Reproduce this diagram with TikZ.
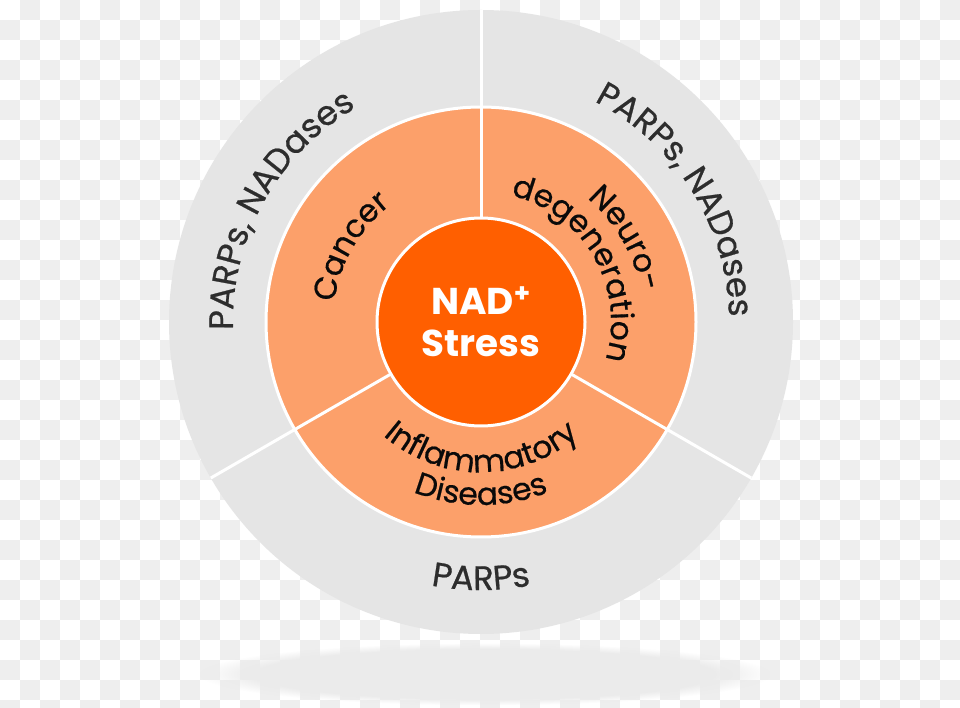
\documentclass[tikz,border=0pt]{standalone}
\usepackage{fontspec}
\setmainfont{Poppins}
\newfontfamily\popmed[FakeBold=0.6]{Poppins}
\usetikzlibrary{decorations.text,fadings}
\definecolor{checker}{RGB}{238,238,238}
\definecolor{ringgrey}{RGB}{229,229,229}
\definecolor{ringorange}{RGB}{252,160,106}
\definecolor{coreorange}{RGB}{255,95,0}
\definecolor{txtgrey}{RGB}{45,45,45}
\definecolor{txtblack}{RGB}{10,10,10}
\newcommand\outerfont{\popmed\fontsize{25.5}{29}\selectfont\color{txtgrey}}
\newcommand\midfont{\popmed\fontsize{23.5}{27}\selectfont\color{txtblack}}
% clockwise arc label (tops outward): angle, radius, format, text
\newcommand\cwlabel[4]{%
  \path[decorate,decoration={text along path,text align=center,text={|#3|#4}}]
    (C) ++({#1+80}:#2) arc[start angle={#1+80},end angle={#1-80},radius=#2];}
% counterclockwise arc label (tops toward centre)
\newcommand\ccwlabel[4]{%
  \path[decorate,decoration={text along path,text align=center,text={|#3|#4}}]
    (C) ++({#1-80}:#2) arc[start angle={#1-80},end angle={#1+80},radius=#2];}
\begin{document}
\begin{tikzpicture}[x=0.75pt,y=0.75pt,
  divider/.style={white,line width=2.25pt},
  corebox/.style={circle,fill=coreorange,draw=white,line width=2.25pt,
    minimum size=156pt,inner sep=0pt,text=white,align=center,
    font=\bfseries\fontsize{28}{31.5}\selectfont}]
\useasboundingbox (0,0) rectangle (960,707);
% transparent-background checkerboard
\fill[white] (0,0) rectangle (960,707);
\foreach \j in {0,...,35}{
  \pgfmathtruncatemacro\off{mod(\j+1,2)*20}
  \foreach \i in {0,...,23}{
    \fill[checker] ({40*\i+\off},{707-20*\j}) rectangle ++(20,-20);
  }
}
% soft shadow
\fill[black!8,path fading=circle with fuzzy edge 20 percent] (200,2) rectangle (770,64);
\coordinate (C) at (481,385);
% rings
\fill[ringgrey] (C) circle[radius=312];
\filldraw[fill=ringorange,draw=white,line width=2.25pt] (C) circle[radius=215];
\foreach \a in {90,210,330}{\draw[divider] (C) -- ++(\a:312);}
\node[corebox] (core) at (C) {NAD\textsuperscript{+}\\Stress};
% outer ring labels
\cwlabel{151}{248}{\outerfont}{PARPs{,} NADases}
\cwlabel{32}{248}{\outerfont}{PARPs{,} NADases}
\ccwlabel{270}{268}{\outerfont}{PARPs}
% middle ring labels
\cwlabel{150}{148}{\midfont}{Cancer}
\cwlabel{30}{163}{\midfont}{Neuro-}
\cwlabel{30}{130}{\midfont}{degeneration}
\ccwlabel{270}{150}{\midfont}{Inflammatory}
\ccwlabel{270}{183}{\midfont}{Diseases}
\end{tikzpicture}
\end{document}
